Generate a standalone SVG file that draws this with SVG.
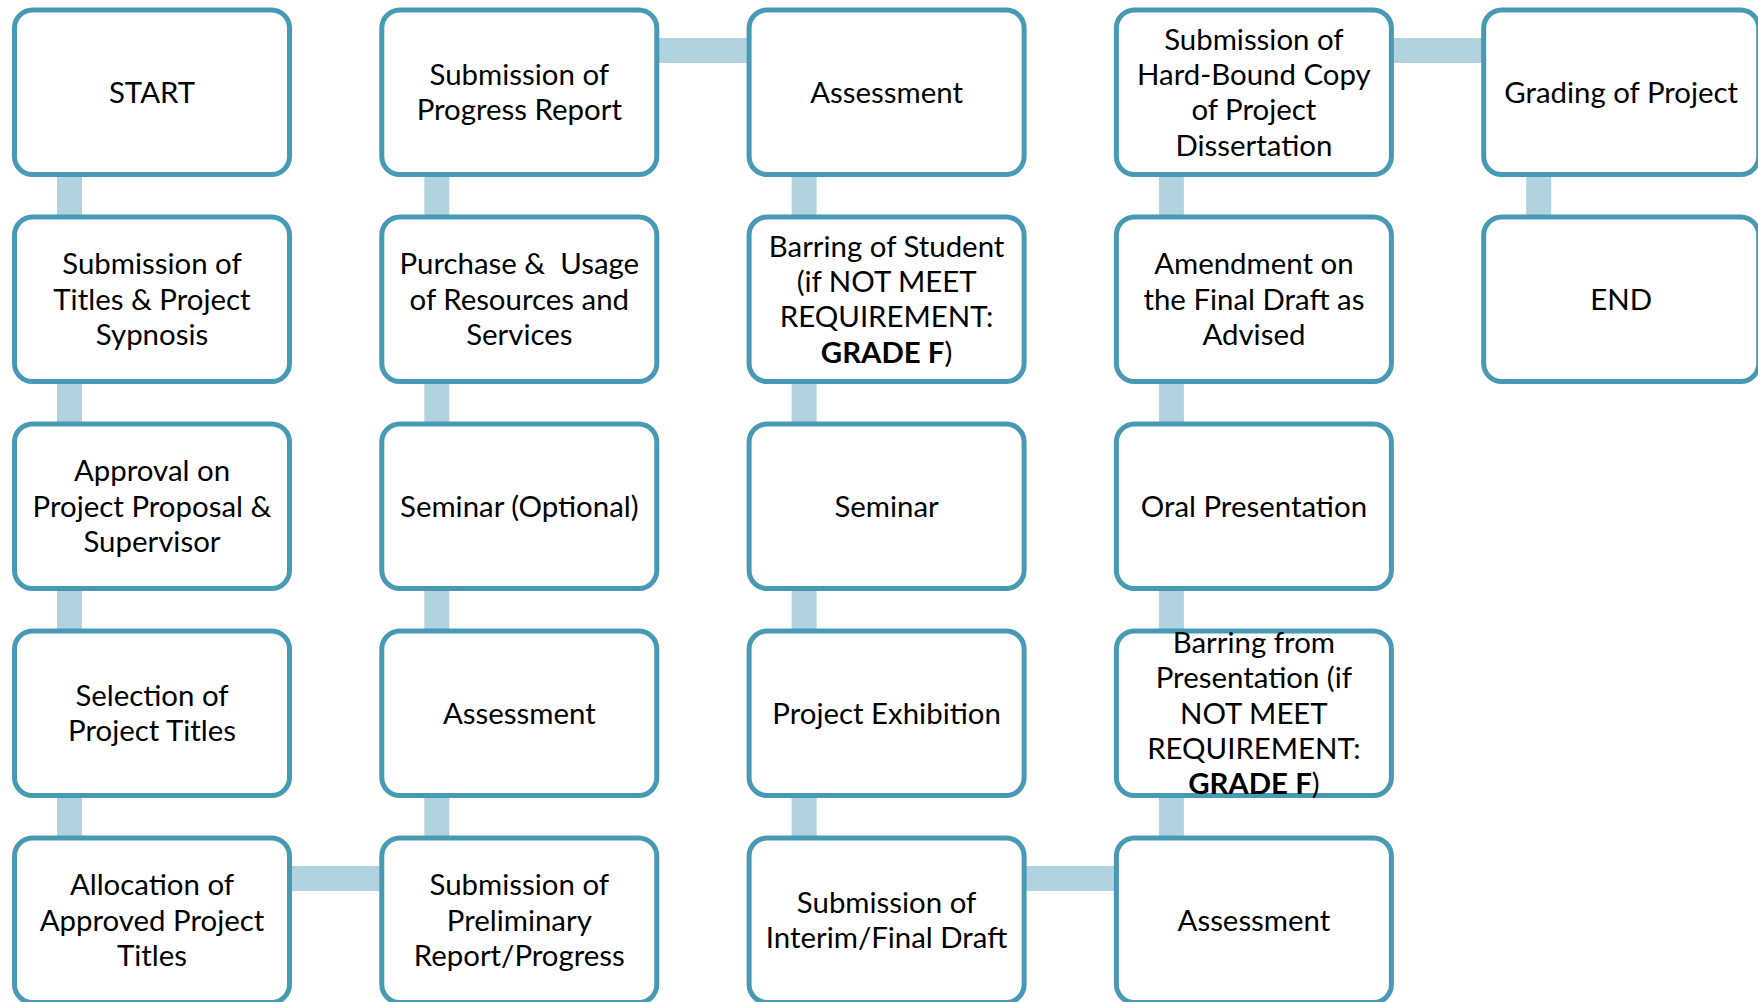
<svg xmlns="http://www.w3.org/2000/svg" width="1758" height="1002" viewBox="0 0 1758 1002">
  <style>
    .box { fill: #ffffff; stroke: #4799B4; stroke-width: 5; }
    .link { fill: #B1D3DF; }
    text { font-family: Lato, "Liberation Sans", sans-serif; font-size: 29.4px; fill: #000000; text-anchor: middle; }
    .b { font-weight: bold; }
  </style>
  <defs>
    <rect id="card" width="275" height="164.5" rx="18" ry="18"/>
  </defs>

  <!-- connectors: vertical bars run down each column, horizontal bars join columns -->
  <g id="connectors">
    <rect class="link" x="57" y="170" width="25" height="680"/>
    <rect class="link" x="424.3" y="170" width="25" height="680"/>
    <rect class="link" x="791.6" y="170" width="25" height="680"/>
    <rect class="link" x="1158.9" y="170" width="25" height="680"/>
    <rect class="link" x="1526.2" y="170" width="25" height="60"/>
    <rect class="link" x="280" y="866" width="110" height="25"/>
    <rect class="link" x="650" y="38" width="110" height="25"/>
    <rect class="link" x="1015" y="866" width="110" height="25"/>
    <rect class="link" x="1385" y="38" width="110" height="25"/>
  </g>

  <!-- column 1 -->
  <g id="n-start"><use href="#card" class="box" x="14.5" y="10"/>
    <text x="152" y="102.75">START</text></g>
  <g id="n-titles"><use href="#card" class="box" x="14.5" y="217"/>
    <text x="152" y="274.45">Submission of<tspan x="152" dy="35.3">Titles &amp; Project</tspan><tspan x="152" dy="35.3">Sypnosis</tspan></text></g>
  <g id="n-approval"><use href="#card" class="box" x="14.5" y="424"/>
    <text x="152" y="481.45">Approval on<tspan x="152" dy="35.3">Project Proposal &amp;</tspan><tspan x="152" dy="35.3">Supervisor</tspan></text></g>
  <g id="n-selection"><use href="#card" class="box" x="14.5" y="631"/>
    <text x="152" y="706.1">Selection of<tspan x="152" dy="35.3">Project Titles</tspan></text></g>
  <g id="n-allocation"><use href="#card" class="box" x="14.5" y="838"/>
    <text x="152" y="895.45">Allocation of<tspan x="152" dy="35.3">Approved Project</tspan><tspan x="152" dy="35.3">Titles</tspan></text></g>

  <!-- column 2 -->
  <g id="n-progress"><use href="#card" class="box" x="381.8" y="10"/>
    <text x="519.3" y="85.1">Submission of<tspan x="519.3" dy="35.3">Progress Report</tspan></text></g>
  <g id="n-purchase"><use href="#card" class="box" x="381.8" y="217"/>
    <text x="519.3" y="274.45" xml:space="preserve">Purchase &amp;  Usage<tspan x="519.3" dy="35.3">of Resources and</tspan><tspan x="519.3" dy="35.3">Services</tspan></text></g>
  <g id="n-seminar-opt"><use href="#card" class="box" x="381.8" y="424"/>
    <text x="519.3" y="516.75">Seminar (Optional)</text></g>
  <g id="n-assess1"><use href="#card" class="box" x="381.8" y="631"/>
    <text x="519.3" y="723.75">Assessment</text></g>
  <g id="n-preliminary"><use href="#card" class="box" x="381.8" y="838"/>
    <text x="519.3" y="895.45">Submission of<tspan x="519.3" dy="35.3">Preliminary</tspan><tspan x="519.3" dy="35.3">Report/Progress</tspan></text></g>

  <!-- column 3 -->
  <g id="n-assess2"><use href="#card" class="box" x="749.1" y="10"/>
    <text x="886.6" y="102.75">Assessment</text></g>
  <g id="n-barring-student"><use href="#card" class="box" x="749.1" y="217"/>
    <text x="886.6" y="256.8">Barring of Student<tspan x="886.6" dy="35.3">(if NOT MEET</tspan><tspan x="886.6" dy="35.3">REQUIREMENT:</tspan><tspan x="886.6" dy="35.3"><tspan class="b">GRADE F</tspan>)</tspan></text></g>
  <g id="n-seminar"><use href="#card" class="box" x="749.1" y="424"/>
    <text x="886.6" y="516.75">Seminar</text></g>
  <g id="n-exhibition"><use href="#card" class="box" x="749.1" y="631"/>
    <text x="886.6" y="723.75">Project Exhibition</text></g>
  <g id="n-interim"><use href="#card" class="box" x="749.1" y="838"/>
    <text x="886.6" y="913.1">Submission of<tspan x="886.6" dy="35.3">Interim/Final Draft</tspan></text></g>

  <!-- column 4 -->
  <g id="n-hardbound"><use href="#card" class="box" x="1116.4" y="10"/>
    <text x="1253.9" y="49.8">Submission of<tspan x="1253.9" dy="35.3">Hard-Bound Copy</tspan><tspan x="1253.9" dy="35.3">of Project</tspan><tspan x="1253.9" dy="35.3">Dissertation</tspan></text></g>
  <g id="n-amendment"><use href="#card" class="box" x="1116.4" y="217"/>
    <text x="1253.9" y="274.45">Amendment on<tspan x="1253.9" dy="35.3">the Final Draft as</tspan><tspan x="1253.9" dy="35.3">Advised</tspan></text></g>
  <g id="n-oral"><use href="#card" class="box" x="1116.4" y="424"/>
    <text x="1253.9" y="516.75">Oral Presentation</text></g>
  <g id="n-barring-pres"><use href="#card" class="box" x="1116.4" y="631"/>
    <text x="1253.9" y="653.15">Barring from<tspan x="1253.9" dy="35.3">Presentation (if</tspan><tspan x="1253.9" dy="35.3">NOT MEET</tspan><tspan x="1253.9" dy="35.3">REQUIREMENT:</tspan><tspan x="1253.9" dy="35.3"><tspan class="b">GRADE F</tspan>)</tspan></text></g>
  <g id="n-assess3"><use href="#card" class="box" x="1116.4" y="838"/>
    <text x="1253.9" y="930.75">Assessment</text></g>

  <!-- column 5 -->
  <g id="n-grading"><use href="#card" class="box" x="1483.7" y="10"/>
    <text x="1621.2" y="102.75">Grading of Project</text></g>
  <g id="n-end"><use href="#card" class="box" x="1483.7" y="217"/>
    <text x="1621.2" y="309.75">END</text></g>
</svg>
